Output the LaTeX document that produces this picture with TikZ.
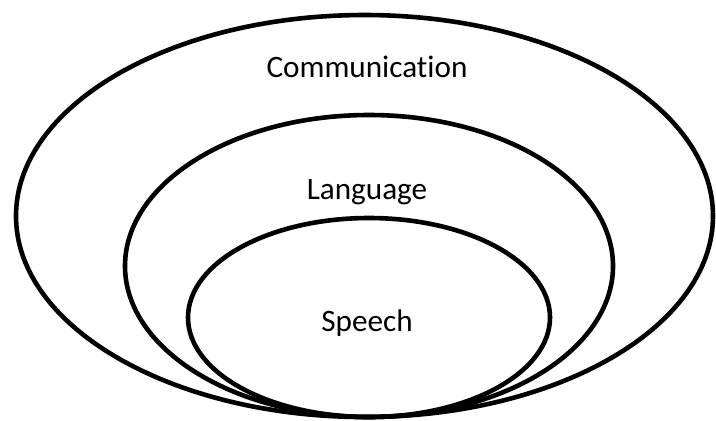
\documentclass[tikz,border=0pt]{standalone}
\usepackage{fontspec}
\setmainfont{Carlito}[Ligatures=NoCommon]
\tikzset{
    ring/.style={line width=2.3pt,black},
    tag/.style={font=\fontsize{15.6}{18}\selectfont,inner sep=0pt}
}

\begin{document}
\begin{tikzpicture}[x=0.5pt,y=-0.5pt]
        % frame
        \useasboundingbox (0,0) rectangle (716,420);
        \clip (0,0) rectangle (716,420);

        % ellipses
        \draw[ring] (364.5,216) ellipse [x radius=348.5,y radius=201];
        \draw[ring] (369,266) ellipse [x radius=244,y radius=151];
        \draw[ring] (369,317.5) ellipse [x radius=181,y radius=99.5];

        % labels
        \node[tag] (comm) at (367,67) {Communication};
        \node[tag] (lang) at (367,192) {Language};
        \node[tag] (speech) at (367,323) {Speech};
\end{tikzpicture}
\end{document}
